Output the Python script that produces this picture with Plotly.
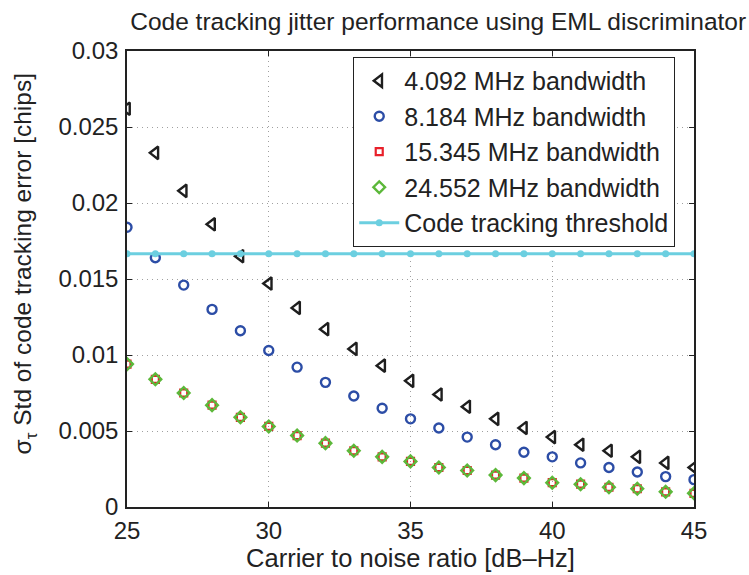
import plotly.graph_objects as go

# Carrier-to-noise ratio sweep [dB-Hz]
cn0 = list(range(25, 46))

# Std of code tracking error [chips] per front-end bandwidth
bw_4092 = [0.0262, 0.0233, 0.0208, 0.0186, 0.0165, 0.0147, 0.0131, 0.0117, 0.0104, 0.0093,
           0.0083, 0.0074, 0.0066, 0.0058, 0.0052, 0.0046, 0.0041, 0.0037, 0.0033, 0.0029, 0.0026]
bw_8184 = [0.0184, 0.0164, 0.0146, 0.0130, 0.0116, 0.0103, 0.0092, 0.0082, 0.0073, 0.0065,
           0.0058, 0.0052, 0.0046, 0.0041, 0.0036, 0.0033, 0.0029, 0.0026, 0.0023, 0.0020, 0.0018]
bw_15345 = [0.0094, 0.0084, 0.0075, 0.0067, 0.0059, 0.0053, 0.0047, 0.0042, 0.0037, 0.0033,
            0.0030, 0.0026, 0.0024, 0.0021, 0.0019, 0.0016, 0.0015, 0.0013, 0.0012, 0.0010, 0.0009]
bw_24552 = [0.0094, 0.0084, 0.0075, 0.0067, 0.0059, 0.0053, 0.0047, 0.0042, 0.0037, 0.0033,
            0.0030, 0.0026, 0.0024, 0.0021, 0.0019, 0.0016, 0.0015, 0.0013, 0.0012, 0.0010, 0.0009]
threshold = [1 / 60] * len(cn0)

x_ticks = [25, 30, 35, 40, 45]
y_ticks = [0, 0.005, 0.01, 0.015, 0.02, 0.025, 0.03]
y_tick_text = ["0", "0.005", "0.01", "0.015", "0.02", "0.025", "0.03"]

FONT = "Liberation Sans, Arial, Helvetica, sans-serif"
INK = "#222"

fig = go.Figure()

fig.add_trace(go.Scatter(
    x=cn0, y=bw_4092, mode="markers", name="4.092 MHz bandwidth",
    marker=dict(symbol="triangle-left-open", size=11, color="#1e1e1e",
                line=dict(width=2.4, color="#1e1e1e"))))
fig.add_trace(go.Scatter(
    x=cn0, y=bw_8184, mode="markers", name="8.184 MHz bandwidth",
    marker=dict(symbol="circle-open", size=9, color="#2c4da6",
                line=dict(width=2.4, color="#2c4da6"))))
fig.add_trace(go.Scatter(
    x=cn0, y=bw_15345, mode="markers", name="15.345 MHz bandwidth",
    marker=dict(symbol="square-open", size=7, color="#e8202a",
                line=dict(width=2.2, color="#e8202a"))))
fig.add_trace(go.Scatter(
    x=cn0, y=bw_24552, mode="markers", name="24.552 MHz bandwidth",
    marker=dict(symbol="diamond-open", size=9, color="#5cb83a",
                line=dict(width=2.4, color="#5cb83a"))))
fig.add_trace(go.Scatter(
    x=cn0, y=threshold, mode="lines+markers", name="Code tracking threshold",
    line=dict(color="#6ccfe0", width=3),
    marker=dict(symbol="circle", size=7, color="#6ccfe0")))

axis_common = dict(
    showline=True, linecolor=INK, linewidth=1.5, mirror="allticks",
    ticks="inside", ticklen=5, tickcolor=INK, tickwidth=1,
    showgrid=True, gridcolor="#a0a0a0", griddash="1px,4px", gridwidth=1,
    zeroline=False, tickfont=dict(size=24, color=INK, family=FONT),
)

fig.update_xaxes(
    range=[25, 45], tickvals=x_ticks, ticktext=[str(v) for v in x_ticks],
    title=dict(text="Carrier to noise ratio [dB\u2013Hz]", standoff=2,
               font=dict(size=25.5, color=INK, family=FONT)),
    ticklabelstandoff=1, **axis_common)
fig.update_yaxes(
    range=[0, 0.03], tickvals=y_ticks, ticktext=y_tick_text,
    ticklabelstandoff=2, **axis_common)

# y-axis label placed beside the tick labels
fig.add_annotation(
    text="\u03c3<sub>\u03c4</sub> Std of code tracking error [chips]",
    xref="paper", yref="paper", x=-0.18, y=0.534,
    xanchor="center", yanchor="middle", textangle=-90, showarrow=False,
    font=dict(size=24.5, color=INK, family=FONT))

fig.update_layout(
    width=749, height=575,
    margin=dict(l=127, r=55, t=51, b=62),
    paper_bgcolor="white", plot_bgcolor="white",
    font=dict(family=FONT, color=INK),
    title=dict(text="Code tracking jitter performance using EML discriminator",
               x=0.585, xref="container", xanchor="center",
               y=0.962, yref="container", yanchor="middle",
               font=dict(size=24.5, color=INK, family=FONT)),
    showlegend=True,
    legend=dict(x=0.399, y=0.987, xanchor="left", yanchor="top",
                bgcolor="white", bordercolor=INK, borderwidth=1,
                font=dict(size=25, color=INK, family=FONT),
                itemwidth=40, tracegroupgap=0),
)

fig.write_html("out.html")
